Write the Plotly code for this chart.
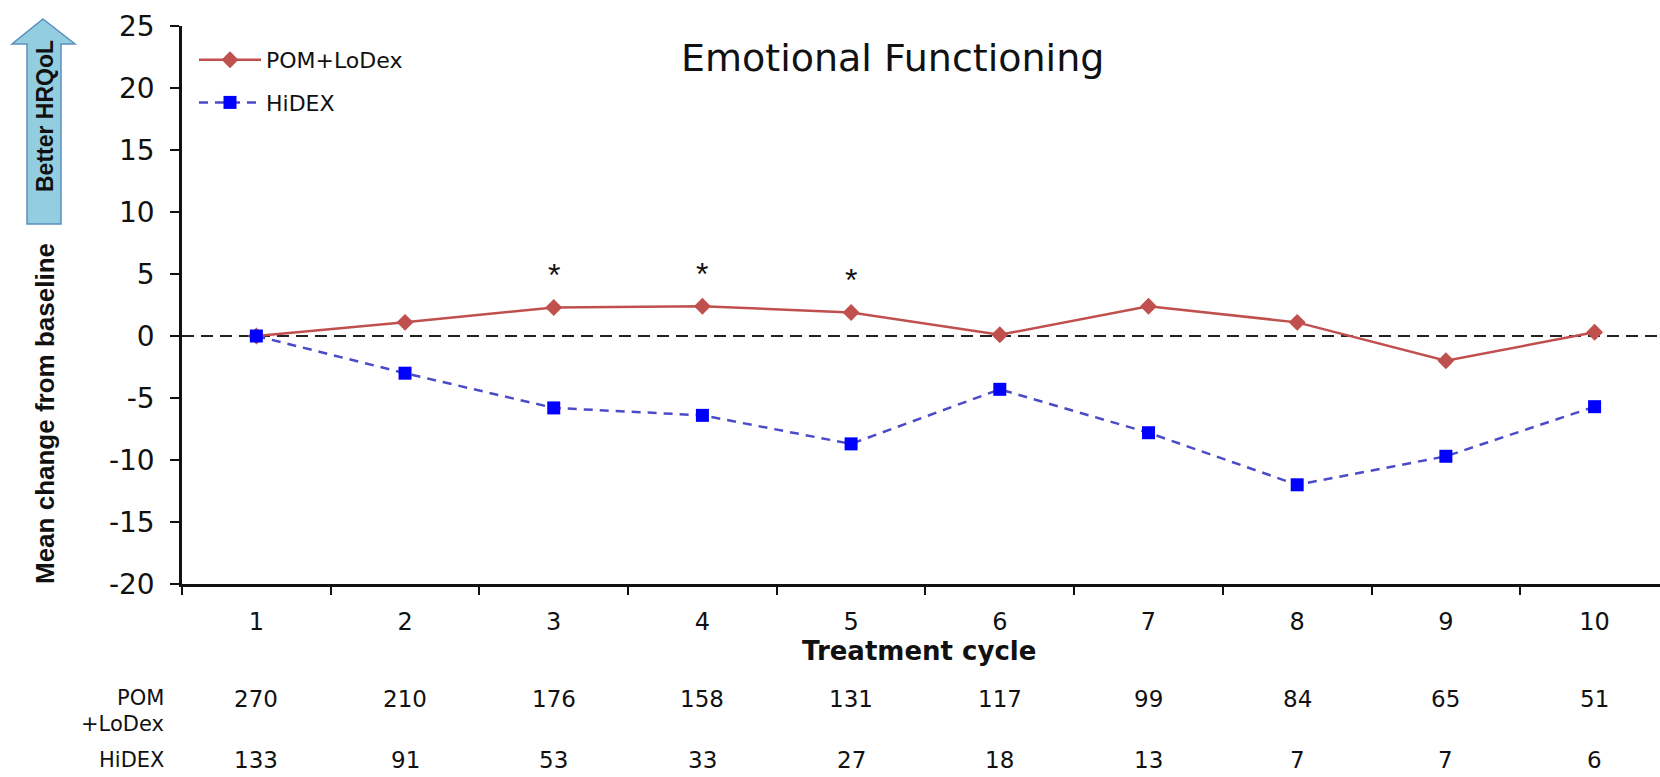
import plotly.graph_objects as go

# ---- data ----
cycles = ["1", "2", "3", "4", "5", "6", "7", "8", "9", "10"]
pom_lodex = [0, 1.1, 2.3, 2.4, 1.9, 0.1, 2.4, 1.1, -2.0, 0.3]
hidex = [0, -3.0, -5.8, -6.4, -8.7, -4.3, -7.8, -12.0, -9.7, -5.7]
significant_cycles = ["3", "4", "5"]
n_pom = [270, 210, 176, 158, 131, 117, 99, 84, 65, 51]
n_hidex = [133, 91, 53, 33, 27, 18, 13, 7, 7, 6]
y_ticks = [-20, -15, -10, -5, 0, 5, 10, 15, 20, 25]

W, H = 1660, 777
L, R, T, B = 182, 0, 26, 193
PW, PH = W - L - R, H - T - B


def px(x):
    return (x - L) / PW


def py(y):
    return (H - B - y) / PH


SANS = "DejaVu Sans"
ARIAL = "Liberation Sans, Arial"

fig = go.Figure()
fig.add_trace(go.Scatter(
    x=cycles, y=pom_lodex, name="POM+LoDex", mode="lines+markers", legendgroup="a",
    line=dict(color="#c0504d", width=2.5),
    marker=dict(symbol="diamond", size=13, color="#c0504d"),
))
fig.add_trace(go.Scatter(
    x=cycles, y=hidex, name="HiDEX", mode="lines+markers", legendgroup="b",
    line=dict(color="#4b4bc8", width=2.5, dash="9px,7px"),
    marker=dict(symbol="square", size=13, color="#0000ff"),
))

shapes = [
    dict(type="line", xref="paper", yref="y", x0=0, x1=1, y0=0, y1=0,
         line=dict(color="#222222", width=2, dash="12px,7px"), layer="below"),
]
# arrow "Better HRQoL"
pts = [(43, 19), (75, 44), (61, 44), (61, 224), (27, 224), (27, 44), (12, 44)]
path = "M " + " L ".join(f"{px(a):.5f},{py(b):.5f}" for a, b in pts) + " Z"
shapes.append(dict(type="path", xref="paper", yref="paper", path=path,
                   fillcolor="#93cde0", line=dict(color="#5b8fbf", width=1.5)))

ann = []
ann.append(dict(text="Emotional Functioning", x=px(892), y=py(58), xref="paper", yref="paper",
                showarrow=False, xanchor="center", yanchor="middle",
                font=dict(family=SANS, size=38, color="#111")))
ann.append(dict(text="<b>Mean change from baseline</b>", x=px(45), y=py(414), xref="paper",
                yref="paper", showarrow=False, textangle=-90, xanchor="center", yanchor="middle",
                font=dict(family=ARIAL, size=26, color="#111")))
ann.append(dict(text="<b>Better HRQoL</b>", x=px(45), y=py(116), xref="paper",
                yref="paper", showarrow=False, textangle=-90, xanchor="center", yanchor="middle",
                font=dict(family=ARIAL, size=23, color="#111")))
ann.append(dict(text="<b>Treatment cycle</b>", x=px(919), y=py(651), xref="paper",
                yref="paper", showarrow=False, xanchor="center", yanchor="middle",
                font=dict(family=SANS, size=26, color="#111")))
for c in significant_cycles:
    i = cycles.index(c)
    ann.append(dict(text="*", x=i, y=pom_lodex[i], xref="x", yref="y", showarrow=False,
                    yshift=32, xanchor="center", yanchor="middle",
                    font=dict(family=ARIAL, size=32, color="#111")))
for lab, yy in [("POM", 698), ("+LoDex", 724), ("HiDEX", 760)]:
    ann.append(dict(text=lab, x=px(166), y=py(yy), xref="paper", yref="paper",
                    showarrow=False, xanchor="right", yanchor="middle",
                    font=dict(family=SANS, size=21, color="#111")))
for i, (a, b) in enumerate(zip(n_pom, n_hidex)):
    ann.append(dict(text=str(a), x=i, y=py(699), xref="x", yref="paper", showarrow=False,
                    xanchor="center", yanchor="middle",
                    font=dict(family=SANS, size=23, color="#111")))
    ann.append(dict(text=str(b), x=i, y=py(760), xref="x", yref="paper", showarrow=False,
                    xanchor="center", yanchor="middle",
                    font=dict(family=SANS, size=23, color="#111")))

fig.update_layout(
    width=W, height=H,
    margin=dict(l=L, r=R, t=T, b=B, pad=0),
    paper_bgcolor="white", plot_bgcolor="white",
    showlegend=True,
    legend=dict(x=px(194), y=py(39), xanchor="left", yanchor="top",
                bgcolor="rgba(0,0,0,0)", borderwidth=0, itemwidth=62,
                font=dict(family=SANS, size=22, color="#111"), tracegroupgap=11),
    shapes=shapes,
    annotations=ann,
    xaxis=dict(type="category", categoryorder="array", categoryarray=cycles,
               range=[-0.5, 9.44], tickson="boundaries", ticks="outside", ticklen=8,
               tickwidth=2, tickcolor="#111", showline=True, linecolor="#111", linewidth=2.5,
               showgrid=False, zeroline=False, ticklabelstandoff=14,
               tickfont=dict(family=SANS, size=24, color="#111")),
    yaxis=dict(range=[-20, 25], tickvals=y_ticks, ticktext=[str(v) for v in y_ticks],
               ticks="outside", ticklen=9, tickwidth=2,
               tickcolor="#111", showline=True, linecolor="#111", linewidth=2.5,
               showgrid=False, zeroline=False, ticklabelstandoff=10,
               tickfont=dict(family=SANS, size=28, color="#111")),
)

fig.write_html("out.html")
